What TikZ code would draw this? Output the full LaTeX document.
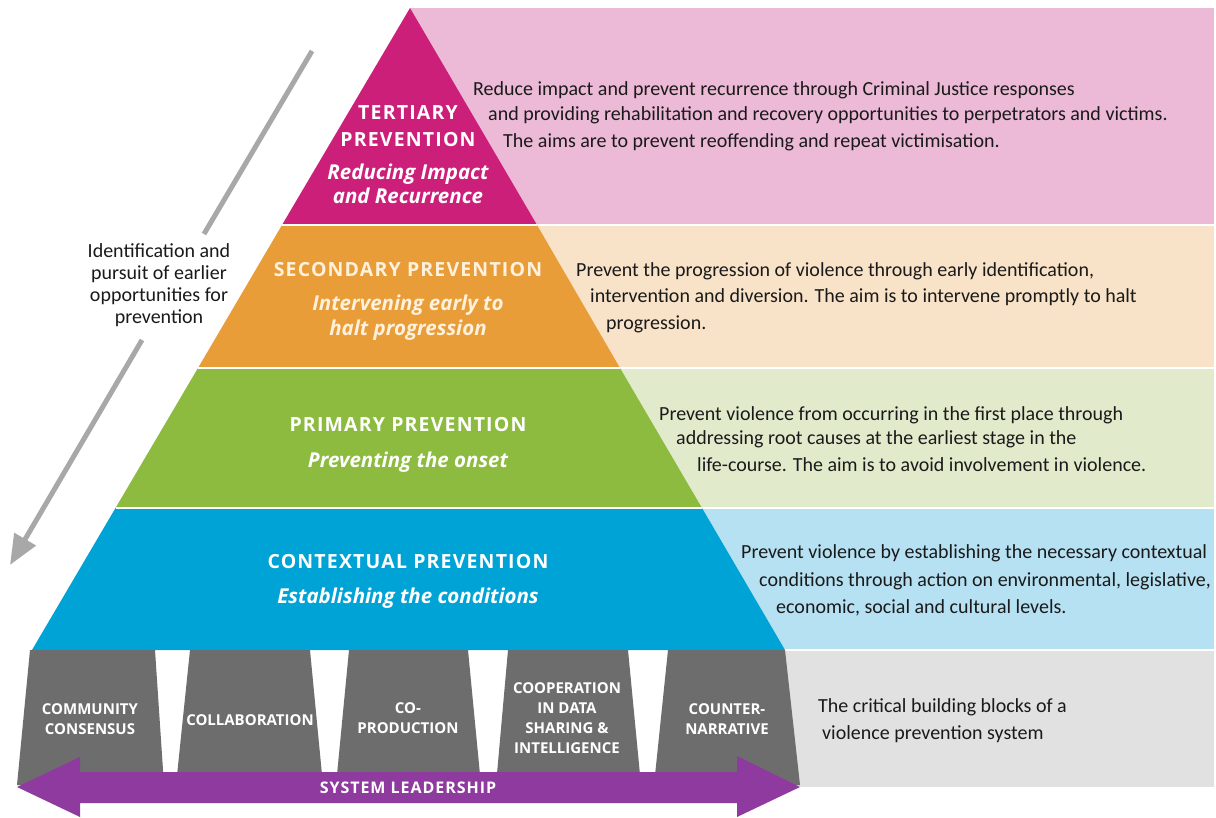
\documentclass[tikz,border=0pt]{standalone}
\usepackage{fontspec}
\setmainfont{Carlito}
\newfontfamily\ttlfont[LetterSpace=6]{Open Sans}
\newfontfamily\subfont{Open Sans}
\usetikzlibrary{arrows.meta}
\definecolor{mag}{HTML}{CC1F7A}
\definecolor{magl}{HTML}{ECB9D7}
\definecolor{ora}{HTML}{E99D38}
\definecolor{oral}{HTML}{F8E2C8}
\definecolor{gre}{HTML}{8CBB3F}
\definecolor{grel}{HTML}{E1EBCC}
\definecolor{blu}{HTML}{00A3D6}
\definecolor{blul}{HTML}{B6E1F2}
\definecolor{gry}{HTML}{6D6D6D}
\definecolor{gryl}{HTML}{E1E1E1}
\definecolor{pur}{HTML}{8E3A9F}
\definecolor{arrgray}{HTML}{A8A8A8}
\definecolor{txt}{HTML}{1A1A1A}
\definecolor{cream}{HTML}{FFF1DC}
\tikzset{
  desc/.style={anchor=base west, inner sep=0pt, text=txt, font=\fontsize{20}{23}\selectfont},
  ttl/.style={anchor=base, inner sep=0pt, text=white, font=\ttlfont\bfseries\fontsize{19.5}{22}\selectfont},
  sub/.style={anchor=base, inner sep=0pt, text=white, font=\subfont\bfseries\itshape\fontsize{20.5}{23}\selectfont},
  blk/.style={align=center, inner sep=0pt, text=white, font=\subfont\bfseries\fontsize{15}{20}\selectfont},
  sep/.style={white, line width=1.5pt}
}
\begin{document}
\begin{tikzpicture}[x=1pt,y=-1pt]
\useasboundingbox (0,0) rectangle (1216,818);
\fill[white] (0,0) rectangle (1216,818);
% right panels
\fill[magl] (410,8) rectangle (1214,225);
\fill[oral] (410,225) rectangle (1214,368);
\fill[grel] (410,368) rectangle (1214,508);
\fill[blul] (410,508) rectangle (1214,650);
\fill[gryl] (700,650) rectangle (1214,787);
\draw[sep] (410,225) -- (1214,225);
\draw[sep] (410,368) -- (1214,368);
\draw[sep] (410,508) -- (1214,508);
\draw[sep] (410,650) -- (1214,650);
% pyramid layers
\coordinate (apex) at (410,8);
\fill[mag] (apex) -- (537,225) -- (282,225) -- cycle;
\fill[ora] (282,225) -- (537,225) -- (620,368) -- (198,368) -- cycle;
\fill[gre] (198,368) -- (620,368) -- (702,508) -- (115.5,508) -- cycle;
\fill[blu] (115.5,508) -- (702,508) -- (785,650) -- (32,650) -- cycle;
\draw[sep] (282,225) -- (537,225);
\draw[sep] (198,368) -- (620,368);
\draw[sep] (115.5,508) -- (702,508);
% building blocks
\fill[gry] (30,650) -- (155,650) -- (164,785) -- (17,785) -- cycle;
\fill[gry] (190,650) -- (310,650) -- (323,785) -- (176,785) -- cycle;
\fill[gry] (349,650) -- (468,650) -- (481,785) -- (336,785) -- cycle;
\fill[gry] (508,650) -- (628,650) -- (641,785) -- (496,785) -- cycle;
\fill[gry] (668,650) -- (785,650) -- (800,785) -- (654,785) -- cycle;
% system leadership arrow
\fill[pur] (17,787) -- (80,757) -- (80,772) -- (737,772) -- (737,756) -- (800,787)
  -- (737,817) -- (737,803) -- (80,803) -- (80,817) -- cycle;
\node[ttl, font=\ttlfont\bfseries\fontsize{16}{18}\selectfont] (lead) at (408,793) {SYSTEM LEADERSHIP};
% block labels
\node[blk] (b1) at (90,719) {COMMUNITY\\CONSENSUS};
\node[blk] (b2) at (250,720) {COLLABORATION};
\node[blk] (b3) at (408,718) {CO-\\PRODUCTION};
\node[blk] (b4) at (567,718) {COOPERATION\\IN DATA\\SHARING \&\\INTELLIGENCE};
\node[blk] (b5) at (727,719) {COUNTER-\\NARRATIVE};
% titles
\node[ttl] (t1a) at (408,120) {TERTIARY};
\node[ttl] (t1b) at (408,147) {PREVENTION};
\node[sub] (t1c) at (408,180) {Reducing Impact};
\node[sub] (t1d) at (408,204) {and Recurrence};
\node[ttl, text=cream] (t2a) at (408,277) {SECONDARY PREVENTION};
\node[sub, text=cream] (t2b) at (408,311) {Intervening early to};
\node[sub, text=cream] (t2c) at (408,336) {halt progression};
\node[ttl] (t3a) at (408,431) {PRIMARY PREVENTION};
\node[sub] (t3b) at (408,467) {Preventing the onset};
\node[ttl] (t4a) at (408,568) {CONTEXTUAL PREVENTION};
\node[sub] (t4b) at (408,603) {Establishing the conditions};
% descriptions
\node[desc] (d1a) at (473,96) {Reduce impact and prevent recurrence through Criminal Justice responses};
\node[desc] (d1b) at (488,121) {and providing rehabilitation and recovery opportunities to perpetrators and victims.};
\node[desc] (d1c) at (503,148) {The aims are to prevent reoffending and repeat victimisation.};
\node[desc] (d2a) at (576,277) {Prevent the progression of violence through early identification,};
\node[desc] (d2b) at (590,303) {intervention and diversion. The aim is to intervene promptly to halt};
\node[desc] (d2c) at (606,330) {progression.};
\node[desc] (d3a) at (659,420) {Prevent violence from occurring in the first place through};
\node[desc] (d3b) at (676,444) {addressing root causes at the earliest stage in the};
\node[desc] (d3c) at (697,471) {life-course. The aim is to avoid involvement in violence.};
\node[desc] (d4a) at (741,558) {Prevent violence by establishing the necessary contextual};
\node[desc] (d4b) at (759,586) {conditions through action on environmental, legislative,};
\node[desc] (d4c) at (776,613) {economic, social and cultural levels.};
\node[desc] (d5a) at (818,712) {The critical building blocks of a};
\node[desc] (d5b) at (822,739) {violence prevention system};
% left note and arrow
\node[align=center, inner sep=0pt, text=txt, font=\fontsize{20}{22}\selectfont] (note) at (159,285)
  {Identification and\\pursuit of earlier\\opportunities for\\prevention};
\coordinate (a0) at (312,51);
\coordinate (a1) at (204,234);
\coordinate (a2) at (142,340);
\coordinate (a3) at (10,565);
\draw[arrgray, line width=5pt] (a0) -- (a1);
\draw[arrgray, line width=5pt, -{Triangle[length=30pt,width=24pt]}] (a2) -- (a3);
\end{tikzpicture}
\end{document}
